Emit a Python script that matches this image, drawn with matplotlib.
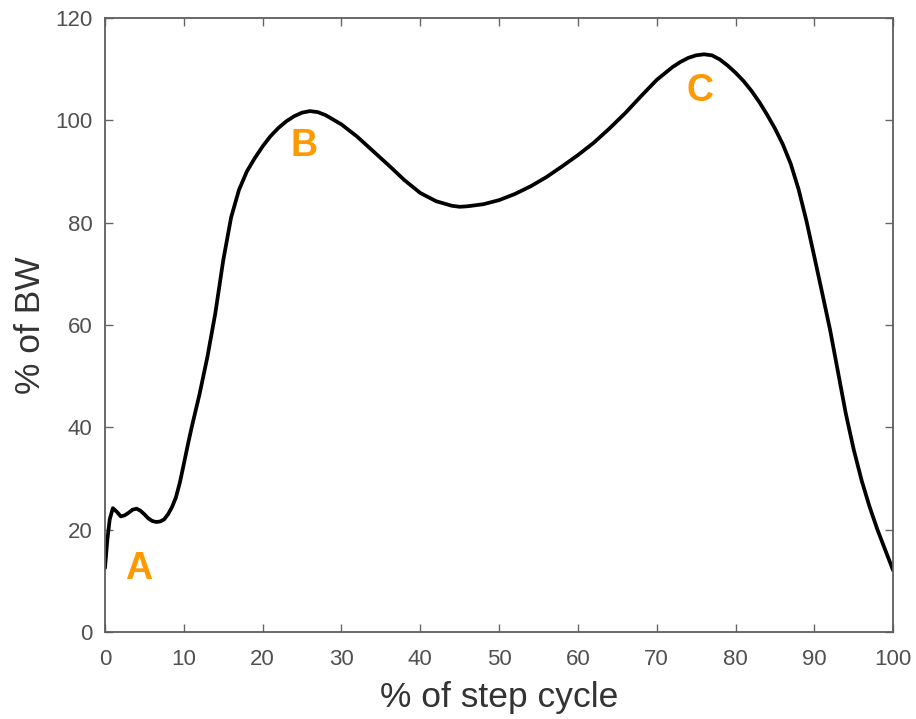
import matplotlib
matplotlib.use("Agg")
import matplotlib.pyplot as plt

plt.rcParams['font.family'] = ['Liberation Sans', 'DejaVu Sans']

step_pct = [0, 0.3, 0.6, 1.0, 1.5, 2.0, 2.5, 3.0, 3.5, 4.0, 4.5, 5.0, 5.5, 6.0, 6.5, 7.0, 7.5, 8.0, 8.5,
            9.0, 9.5, 10, 10.5, 11, 12, 13, 14, 15, 16, 17, 18, 19, 20, 21, 22, 23, 24, 25, 26, 27, 28, 30,
            32, 34, 36, 38, 40, 42, 44, 45, 46, 48, 50, 52, 54, 56, 58, 60, 62, 64, 66, 68,
            70, 72, 73, 74, 75, 76, 77, 78, 79, 80, 81, 82, 83, 84, 85, 86, 87, 88, 89, 90, 91, 92, 93,
            94, 95, 96, 97, 98, 99, 100]
bw_pct = [12.5, 18, 22, 24.2, 23.5, 22.6, 22.8, 23.3, 23.9, 24.1, 23.7, 23.0, 22.2, 21.7, 21.5, 21.6, 22.0, 23.0, 24.4,
          26.3, 29.2, 32.8, 36.5, 40.0, 46.5, 53.8, 62.3, 72.6, 81.0, 86.4, 90.0, 92.6, 94.9, 96.9, 98.5, 99.8, 100.8, 101.5, 101.8, 101.6, 101.0, 99.2,
          96.8, 94.0, 91.2, 88.3, 85.8, 84.2, 83.3, 83.1, 83.2, 83.6, 84.4, 85.6, 87.1, 88.9, 91.0, 93.2, 95.6, 98.4, 101.4, 104.7,
          107.9, 110.4, 111.4, 112.2, 112.7, 112.9, 112.7, 111.9, 110.7, 109.3, 107.7, 105.8, 103.6, 101.1, 98.4, 95.3, 91.5, 86.5, 80.3, 73.3, 66.2, 59.0, 50.8,
          42.6, 35.6, 29.6, 24.5, 20.0, 16.0, 12.0]

x_ticks = [0, 10, 20, 30, 40, 50, 60, 70, 80, 90, 100]
y_ticks = [0, 20, 40, 60, 80, 100, 120]

labels = ['A', 'B', 'C']
label_x = [4.3, 25.3, 75.5]
label_y = [12.3, 95.0, 105.8]

fig = plt.figure(figsize=(9.16, 7.19), dpi=100)
ax = fig.add_axes([0.1146, 0.121, 0.8605, 0.854])
ax.plot(step_pct, bw_pct, color='black', lw=2.7, solid_joinstyle='round', solid_capstyle='round')

ax.set_xlim(0, 100)
ax.set_ylim(0, 120)
ax.set_xticks(x_ticks)
ax.set_yticks(y_ticks)
ax.tick_params(direction='in', top=True, right=True, length=6, width=1, colors='#666666',
               labelcolor='#505050', labelsize=16, pad=9)
ax.tick_params(axis='x', pad=12)
for s in ax.spines.values():
    s.set_color('#5e5e5e')
    s.set_linewidth(1.3)

ax.set_xlabel('% of step cycle', fontsize=25.5, color='#333333', labelpad=8)
ax.set_ylabel('% of BW', fontsize=25.5, color='#333333', labelpad=6)

for t, lx, ly in zip(labels, label_x, label_y):
    ax.text(lx, ly, t, color='#FF9900', fontsize=27, fontweight='bold', ha='center', va='center')

fig.savefig('out.png', dpi=100)
